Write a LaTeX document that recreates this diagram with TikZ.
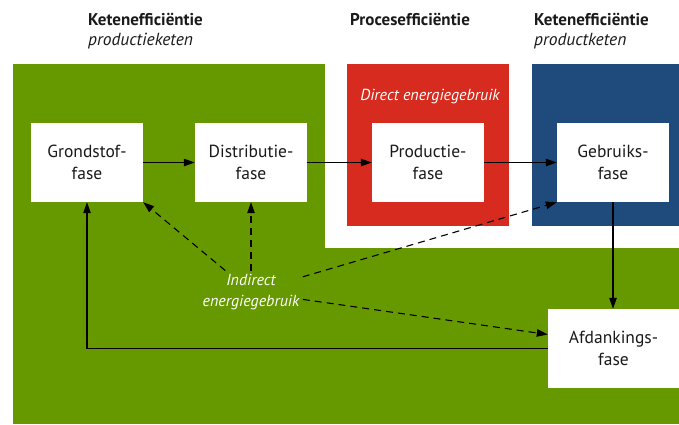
\documentclass[tikz,border=0pt]{standalone}
\usepackage{fontspec}
\setmainfont{PT Sans}
\usepackage{tikz}
\usetikzlibrary{arrows.meta, positioning, shapes}
\definecolor{ketengreen}{RGB}{102, 153, 0}
\definecolor{procesred}{RGB}{214, 43, 30}
\definecolor{ketenblue}{RGB}{31, 74, 124}
\definecolor{inkgray}{RGB}{26, 26, 26}

\begin{document}
\begin{tikzpicture}[
    x=1pt, y=-1pt,
    fase/.style={rectangle, fill=white, minimum width=112pt, minimum height=79pt, inner sep=0pt, align=center, font=\fontsize{17.5}{21.5}\selectfont, text=inkgray},
    kop/.style={anchor=base west, inner sep=0pt, font=\fontsize{17}{20}\selectfont\bfseries, text=inkgray},
    subkop/.style={anchor=base west, inner sep=0pt, font=\fontsize{17.5}{20}\selectfont\itshape, text=inkgray},
    label/.style={align=center, font=\fontsize{16}{21}\selectfont\itshape, text=white},
    edge/.style={-{Triangle[length=11pt, width=7.5pt]}, line width=1.1pt},
    indirect/.style={-{Triangle[length=11pt, width=7.5pt]}, line width=1.1pt, dash pattern=on 7pt off 5pt}
]
    \useasboundingbox (0, 0) rectangle (679, 425);

    % Areas
    \fill[ketengreen] (13, 64) rectangle (679, 424);
    \fill[white] (325, 64) rectangle (679, 248);
    \fill[procesred] (347, 64) rectangle (509, 226);
    \fill[ketenblue] (532, 64) rectangle (679, 226);

    % Headings
    \node[kop] (kop1) at (88, 26) {Ketenefficiëntie};
    \node[subkop] (sub1) at (88, 46) {productieketen};
    \node[kop] (kop2) at (350, 26) {Procesefficiëntie};
    \node[kop] (kop3) at (534, 26) {Ketenefficiëntie};
    \node[subkop] (sub3) at (534, 46) {productketen};

    % Phases
    \node[fase] (grondstof) at (87, 162.5) {Grondstof-\\fase};
    \node[fase] (distributie) at (251, 162.5) {Distributie-\\fase};
    \node[fase] (productie) at (428, 162.5) {Productie-\\fase};
    \node[fase] (gebruik) at (613, 162.5) {Gebruiks-\\fase};
    \node[fase, minimum width=131pt] (afdanking) at (613.5, 348.5) {Afdankings-\\fase};

    % Energy labels
    \node[label] (direct) at (430, 97) {Direct energiegebruik};
    \node[label] (indirect) at (251, 292) {Indirect\\energiegebruik};

    % Chain
    \draw[edge] (grondstof) -- (distributie);
    \draw[edge] (distributie) -- (productie);
    \draw[edge] (productie) -- (gebruik);
    \draw[edge] (gebruik.south) -- (gebruik.south |- afdanking.north);
    \draw[edge] (afdanking.west) -| (grondstof.south);

    % Indirect use
    \draw[indirect] (indirect) -- (grondstof.south east);
    \draw[indirect] (indirect.north) -- (distributie.south);
    \draw[indirect] (indirect) -- (gebruik.south west);
    \draw[indirect] (indirect) -- ([yshift=14pt]afdanking.west);
\end{tikzpicture}
\end{document}
